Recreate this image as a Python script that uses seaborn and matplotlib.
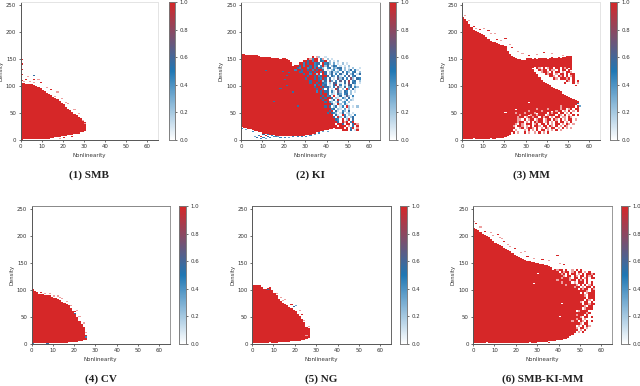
import numpy as np
import matplotlib
matplotlib.use("Agg")
import matplotlib.pyplot as plt
from matplotlib.colors import LinearSegmentedColormap, ListedColormap
import seaborn as sns

sns.set_style("ticks")
plt.rcParams['font.family'] = ['DejaVu Sans']

x_ticks = [0, 10, 20, 30, 40, 50, 60]
y_ticks = [0, 50, 100, 150, 200, 250]
cbar_ticks = [0.0, 0.2, 0.4, 0.6, 0.8, 1.0]
titles = ["(1) SMB", "(2) KI", "(3) MM", "(4) CV", "(5) NG", "(6) SMB-KI-MM"]

# top and bottom of the filled part of each nonlinearity column, read by eye
smb_upper = [104, 104, 103, 103, 103, 102, 100, 98, 96, 94, 91, 89, 87, 85, 82, 79, 76, 74, 71, 67, 64, 60, 57, 54, 50, 47, 44, 41, 38, 36, 33]
smb_lower = [1, 2, 2, 2, 2, 2, 2, 2, 2, 2, 2, 3, 3, 3, 4, 5, 6, 6, 7, 8, 9, 9, 10, 10, 11, 12, 12, 13, 14, 15, 17]
# single cells as (nonlinearity, density, value): 9 = red, 0 = white, -1 = pink
smb_specks = [(0, 110, 9), (0, 120, 9), (0, 130, 9), (0, 140, 9), (0, 148, 9), (1, 108, -1), (2, 112, 9), (3, 116, -1), (4, 108, -1),
              (6, 118, 5), (6, 112, 9), (6, 106, -1), (8, 112, -1), (9, 106, 9), (12, 96, -1), (14, 92, 9), (17, 88, -1), (19, 76, -1),
              (22, 66, -1), (25, 56, -1), (27, 48, -1), (20, 4, 9), (18, 2, -1), (24, 6, 9), (29, 36, -1), (30, 30, -1), (16, 80, -1), (21, 68, -1)]

ki_upper = [158, 158, 157, 157, 156, 156, 157, 156, 154, 153, 152, 152, 152, 152, 150, 150, 151, 150, 149, 150, 150, 148, 146, 142, 136, 132, 128, 122, 112, 102, 96, 88, 78, 70, 62, 52, 42, 36, 32, 30, 28, 28, 26, 26, 24]
ki_lower = [24, 23, 22, 21, 20, 18, 17, 16, 15, 14, 13, 12, 11, 11, 10, 10, 9, 9, 9, 8, 8, 8, 8, 8, 8, 8, 8, 9, 9, 9, 10, 10, 11, 12, 13, 14, 15, 16, 17, 18, 19, 20, 21, 22, 23]
ki_specks = [(0, 20, 4), (2, 18, 3), (5, 14, 4), (6, 6, 3), (7, 4, 5), (8, 8, 4), (9, 2, 4), (9, 6, 9), (10, 10, 5), (10, 4, 4), (11, 8, 9),
             (11, 2, 3), (12, 6, 5), (12, 10, 4), (13, 4, 4), (14, 8, 4), (15, 6, 4), (16, 6, 4), (17, 6, 3), (18, 4, 4), (20, 4, 4),
             (22, 4, 3), (24, 6, 4), (26, 6, 4), (28, 6, 4), (30, 6, 4), (32, 8, 4), (34, 10, 3), (36, 12, 4), (38, 14, 3), (40, 14, 3),
             (11, 128, 5), (15, 70, 5), (19, 126, 5), (21, 118, 5), (22, 124, 5), (20, 112, 5), (18, 94, 5), (24, 88, 5), (26, 62, 5), (21, 100, 5)]
# densities 152 down to 16 in steps of 4, nonlinearity 22 upward
ki_noise_top = 152
ki_noise_left = 22
ki_noise = [
    "...........9.p2..1",
    ".........9p499.4p.2.1",
    ".......9959499.549.2.1.2",
    ".....9949599455.9452.3.1.2.1",
    "...99594995945.4925.254.1.1.2",
    "..995499945949452.45.3255.2.1.2..1",
    "...49959959495995.1.24.14.2.25.41",
    "....95599959599495.25123.5.42.45.2",
    "....99959949929.95.25.4.51.5.25.15",
    ".....99995995945995.53.51.4.6.45",
    ".....9995999595495.5.1.625.4.72.54",
    "......999959995925.73.4.6.5.8.45.2",
    "......999959959954.2.65.1.5.7.54.1",
    ".......99999495945.1.58.4.2.65.2",
    ".......9999959959552.4.72.5.35.42",
    "........999995994.5.1.85.2.93.51",
    "........99999495955.41.62.54.2.1",
    ".........9999995995.21.53.45.2",
    ".........99999995945.9.15.162.4",
    "..........99999595995.21.42.5.1",
    "..........999999599.15.92.14.21",
    "...........9999995942.15.24.2",
    "...........99999999951.92.41",
    "............99999595.25.14.92.1.2",
    "............9999999945.21.3.2",
    ".............99999959.51.42.5",
    ".............9999959542.15.12.1",
    "..............9999999.51.94.21.4",
    "..............99999995.92.51.25",
    "...............999999954.9.29.5",
    "................99999995.9p9.49",
    "..................9999.995.99.59p",
    "....................999.999.p.5.9",
    "......................9999.9.49.p",
    ".........................999.5.19",
]

mm_upper = [224, 222, 218, 214, 208, 202, 200, 198, 196, 194, 192, 190, 186, 183, 181, 180, 178, 176, 175, 174, 172, 165, 158, 155, 152, 150, 149, 148, 147, 146, 145, 142, 136, 130, 125, 120, 115, 110, 107, 105, 102, 100, 97, 95, 92, 90, 88, 85, 83, 80, 78, 76, 74, 72, 70]
mm_lower = [2, 2, 2, 2, 2, 2, 2, 3, 3, 3, 3, 3, 3, 3, 3, 3, 4, 4, 4, 5, 6, 8, 10, 14, 20, 32, 36, 40, 42, 44, 45, 46, 47, 48, 49, 50, 50, 51, 52, 53, 54, 54, 55, 56, 57, 58, 59, 60, 61, 61, 62, 63, 64, 65, 66]
mm_band_upper = [150, 150, 150, 149, 150, 149, 150, 150, 151, 150, 149, 150, 152, 150, 151, 152, 150, 152, 153, 154, 154, 155]
mm_band_lower = [128, 130, 132, 134, 136, 136, 136, 136, 136, 136, 136, 136, 136, 136, 136, 136, 136, 136, 136, 134, 134, 130]
mm_band_left = 30
mm_specks = [(0, 226, 9), (1, 230, -1), (3, 220, -1), (5, 210, 9), (8, 204, 9), (10, 206, -1), (12, 202, 9), (15, 196, -1), (18, 184, -1),
             (20, 188, 9), (23, 170, 9), (26, 164, -1), (28, 160, -1), (31, 156, 9), (35, 158, -1), (38, 162, 9), (42, 160, -1), (47, 156, -1),
             (13, 196, -1), (6, 206, -1), (16, 186, 9), (22, 176, -1),
             (5, 2, 0), (13, 2, 0), (20, 50, 0), (25, 56, 0), (24, 24, 9), (31, 68, 0), (36, 54, 9), (53, 100, 9), (54, 66, 5), (55, 62, 3)]
mm_noise_top = 132
mm_noise_left = 34
mm_noise = [
    ".9p.9.p99.99.9p9",
    "..9p99.9pp.9.99.9",
    "...p99p.9.99.p.99p",
    ".....9p99.p.99.9.99",
    ".......99p.9p9.9.p9.",
    ".........9p.999p9.9",
    "...............9p.9.9",
    "..............9...9.p",
]
mm_noise_low_top = 60
mm_noise_low_left = 24
mm_noise_low = [
    "..................9999p99.999.9",
    "..........9p9999p99.99p99.p9.99",
    ".....9.p99999p9999.9p99.p.9.p.9",
    ".p.99p9999p.9999.9p99.99.p.9",
    "...p.99.p99p999.p999.9p.9.p.9.9",
    ".9p99.p99p99.9p99.p.99.pp.9p",
    "9.pp.9.p99.p99.p99.9p.9.p.99.p",
    "..p99.p.9.9p99.p9.p.9.99.p.9",
    ".p.9p.999.p9.99.9.p.99.p.9p.p",
    "p.99p.p.9.99p.99.9p.9.p.9p",
    "...p9.p99p.9.p.9p.99.p.9.p.p",
    ".p...p.9.p.9.99.p.p.9.p",
    "9.p..9.p..p.9.p.9",
]

cv_upper = [100, 97, 94, 90, 90, 90, 89, 88, 88, 86, 85, 85, 82, 80, 77, 75, 73, 70, 65, 60, 55, 48, 40, 36, 30, 15]
cv_lower = [2, 2, 2, 2, 2, 2, 2, 2, 2, 2, 2, 2, 2, 3, 3, 3, 3, 4, 4, 4, 4, 5, 6, 7, 8, 9]
cv_specks = [(4, 94, 9), (6, 92, -1), (10, 88, -1), (12, 88, -1), (14, 84, -1), (16, 78, -1), (18, 70, -1), (20, 60, 9), (21, 62, -1),
             (22, 50, -1), (24, 38, -1), (25, 20, -1), (0, 0, 4), (7, 0, 5), (20, 56, 5), (25, 12, 4), (8, 92, -1), (13, 86, -1)]

ng_upper = [108, 109, 109, 108, 104, 100, 100, 102, 102, 98, 92, 88, 82, 78, 75, 72, 70, 67, 65, 62, 60, 55, 50, 44, 38, 30, 28]
ng_lower = [2, 2, 2, 2, 2, 2, 2, 2, 2, 3, 3, 3, 4, 4, 4, 4, 5, 5, 6, 6, 6, 7, 7, 8, 8, 10, 12]
ng_specks = [(7, 100, 5), (8, 104, 9), (13, 86, -1), (15, 82, -1), (18, 72, 9), (19, 68, 5), (20, 70, 3), (22, 62, -1), (23, 54, 9),
             (24, 42, -1), (26, 32, -1), (26, 24, 9), (8, 2, 0), (25, 14, -1), (11, 92, -1), (14, 80, -1)]

combo_upper = [215, 212, 210, 207, 203, 200, 198, 196, 193, 190, 187, 185, 182, 180, 177, 175, 172, 170, 167, 165, 163, 161, 159, 157, 155, 153, 152, 151, 150, 149, 148, 147, 146, 145, 144, 142, 140, 136, 134, 132, 130, 128, 126, 122, 118, 112, 106, 100]
combo_lower = [2, 2, 2, 2, 2, 2, 2, 2, 2, 2, 2, 2, 2, 2, 2, 2, 2, 2, 2, 2, 2, 2, 2, 2, 2, 3, 3, 3, 3, 3, 4, 4, 4, 5, 5, 6, 6, 7, 7, 8, 8, 9, 10, 11, 12, 14, 16, 20]
combo_specks = [(0, 226, -1), (1, 222, 9), (3, 216, -1), (5, 208, 9), (8, 206, -1), (11, 202, 9), (12, 196, -1), (14, 190, 9), (17, 180, -1),
                (19, 176, 9), (22, 168, -1), (25, 162, 9), (28, 158, -1), (32, 156, 9), (35, 154, -1), (39, 164, 9), (40, 148, -1), (42, 146, 9),
                (9, 200, -1), (13, 194, -1), (16, 184, -1), (24, 170, -1),
                (30, 130, 0), (28, 112, 0), (40, 50, 0), (41, 74, 0), (6, 2, 0), (26, 2, 0), (35, 2, 9), (38, 6, 9)]
combo_noise_top = 136
combo_noise_left = 38
combo_noise = [
    "9p99.9..p.9.9",
    "99.9p99.p9.99.p.9",
    ".99p9.9.99.p.9.99p9",
    "9.99p.99.9p.99.9p9",
    "99.p9.9p.99.9.p9.99",
    "9p99.9.p99.9p9.9",
    "..9p99.9.p.999.9.9",
    "...9.p9.99p.9.9.p9",
    "......999p99.p.99.9",
    ".......9999.9p99.9p",
    ".......99999999p.99p",
    "........9999.9.p999",
    "........999999p.999.p",
    ".........999999.999",
    ".........99999.9p.99",
    ".........999p.99.9.p",
    ".........9999.99p999",
    ".........99999p.99",
    "........99999.p999",
    "........99.p9999.",
    "........9999999p9",
    "........99p999.9.",
    ".......9.999p.99.9",
    ".......99.p99.p",
    ".......9p.9.9p.9.9",
    "........9.99p.99",
    "........99.p.9.9p",
    ".........9p.99.p",
    "..........9.p.9.",
    "...........p.9",
]

n_cols = 65
n_rows = 128
y_bin = 2

cmap = LinearSegmentedColormap.from_list("rb", ["#ffffff", "#1f77b4", "#d62728"])
pink_cmap = ListedColormap(["#eda0a0"])


def fill_columns(grid, upper, lower, left=0):
    for i, (hi, lo) in enumerate(zip(upper, lower)):
        grid[lo // y_bin:hi // y_bin + 1, left + i] = 1.0


def fill_noise(grid, pink, rows, top, left, right=56):
    for r, row in enumerate(rows):
        d = top - 4 * r
        for c, ch in enumerate(row):
            if ch == "." or left + c >= right:
                continue
            cells = (slice(d // y_bin, d // y_bin + 2), left + c)
            if ch == "p":
                pink[cells] = 1.0
                grid[cells] = np.nan
            else:
                grid[cells] = int(ch) / 9
                pink[cells] = np.nan


def fill_specks(grid, pink, specks):
    for x, y, v in specks:
        if v < 0:
            pink[y // y_bin, x] = 1.0
            grid[y // y_bin, x] = np.nan
        else:
            grid[y // y_bin, x] = v / 9


grids = [np.full((n_rows, n_cols), np.nan) for _ in titles]
pinks = [np.full((n_rows, n_cols), np.nan) for _ in titles]

fill_columns(grids[0], smb_upper, smb_lower)
fill_specks(grids[0], pinks[0], smb_specks)

fill_columns(grids[1], ki_upper, ki_lower)
fill_noise(grids[1], pinks[1], ki_noise, ki_noise_top, ki_noise_left)
fill_specks(grids[1], pinks[1], ki_specks)

fill_columns(grids[2], mm_upper, mm_lower)
fill_columns(grids[2], mm_band_upper, mm_band_lower, left=mm_band_left)
fill_noise(grids[2], pinks[2], mm_noise, mm_noise_top, mm_noise_left)
fill_noise(grids[2], pinks[2], mm_noise_low, mm_noise_low_top, mm_noise_low_left)
fill_specks(grids[2], pinks[2], mm_specks)

fill_columns(grids[3], cv_upper, cv_lower)
fill_specks(grids[3], pinks[3], cv_specks)

fill_columns(grids[4], ng_upper, ng_lower)
fill_specks(grids[4], pinks[4], ng_specks)

fill_columns(grids[5], combo_upper, combo_lower)
fill_noise(grids[5], pinks[5], combo_noise, combo_noise_top, combo_noise_left, right=57)
fill_specks(grids[5], pinks[5], combo_specks)

W, H = 640, 386
fig = plt.figure(figsize=(W / 100, H / 100), dpi=100)

# left, right, colorbar left, colorbar right, top, bottom in pixels
boxes = [(20.5, 158, 169, 175, 2, 140),
         (241, 380, 389, 396, 2, 140),
         (462, 600, 610, 617, 2, 140),
         (31.5, 170, 179, 186, 206, 344),
         (252, 391, 400, 407, 206, 344),
         (473, 612, 621, 628, 206, 344)]
spine_top = ["#e4e4e4", "#e4e4e4", "#e4e4e4", "#888888", "#666666", "#888888"]
spine_right = ["#e4e4e4", "#888888", "#e4e4e4", "#999999", "#666666", "#999999"]

for i, box in enumerate(boxes):
    l, r, cl, cr, t, b = box
    ax = fig.add_axes([l / W, 1 - b / H, (r - l) / W, (b - t) / H])
    cax = fig.add_axes([cl / W, 1 - b / H, (cr - cl) / W, (b - t) / H])
    sns.heatmap(grids[i], ax=ax, cbar_ax=cax, cmap=cmap, vmin=0, vmax=1,
                xticklabels=False, yticklabels=False, rasterized=True)
    sns.heatmap(pinks[i], ax=ax, cbar=False, cmap=pink_cmap, vmin=0, vmax=1,
                xticklabels=False, yticklabels=False, rasterized=True)
    ax.set_ylim(0, 256 / y_bin)
    ax.set_xlim(0, n_cols)
    ax.set_xticks(x_ticks)
    ax.set_xticklabels(x_ticks)
    ax.set_yticks([v / y_bin for v in y_ticks])
    ax.set_yticklabels(y_ticks, rotation=0)
    ax.tick_params(labelsize=3.9, length=1.6, width=0.5, pad=1.5, colors="#333333")
    ax.set_xlabel("Nonlinearity", fontsize=4, color="#333333")
    ax.set_ylabel("Density", fontsize=3.8, color="#333333")
    ax.yaxis.set_label_coords(-17 / (r - l), 0.5)
    ax.xaxis.set_label_coords(0.5, -13 / (b - t))
    for name, spine in ax.spines.items():
        spine.set_visible(True)
        spine.set_linewidth(0.7)
        spine.set_color("#555555")
    ax.spines["top"].set_color(spine_top[i])
    ax.spines["right"].set_color(spine_right[i])
    cax.set_yticks(cbar_ticks)
    cax.set_yticklabels(["%.1f" % v for v in cbar_ticks])
    cax.tick_params(labelsize=3.9, length=1.6, width=0.5, pad=1.5, colors="#333333")
    for spine in cax.spines.values():
        spine.set_visible(True)
        spine.set_linewidth(0.5)
        spine.set_color("#777777")
    title_y = 175 if i < 3 else 379
    fig.text((l + r) / 2 / W, 1 - title_y / H, titles[i], ha="center", va="center",
             fontsize=8, fontweight="bold", family="Liberation Serif", color="#222222")

fig.savefig("out.png", dpi=100)
